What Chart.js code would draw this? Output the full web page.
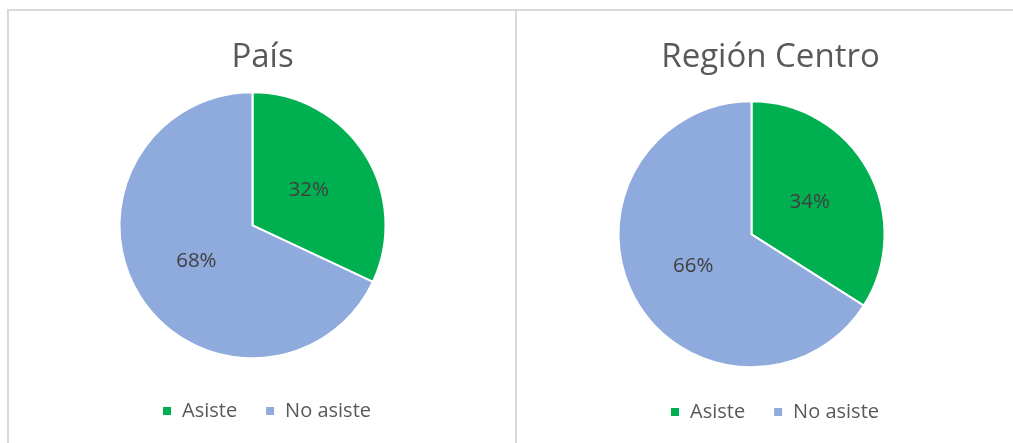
<!DOCTYPE html>
<html>
<head>
<meta charset="utf-8">
<script src="https://cdn.jsdelivr.net/npm/chart.js@4.4.0/dist/chart.umd.min.js"></script>
<style>
  html, body { margin: 0; padding: 0; background: #fff; overflow: hidden; }
  body { width: 1013px; height: 443px; position: relative; }
  .ln { position: absolute; background: #d9d9d9; }
  .panel { position: absolute; top: 11px; width: 507px; height: 432px; }
</style>
</head>
<body>
<div class="ln" style="left:7px;top:9px;width:1006px;height:2px;"></div>
<div class="ln" style="left:7px;top:9px;width:2px;height:434px;"></div>
<div class="ln" style="left:515px;top:9px;width:2px;height:434px;"></div>
<div class="panel" style="left:9px;"><canvas id="c1"></canvas></div>
<div class="panel" style="left:517px;"><canvas id="c2"></canvas></div>
<script>
const categories = ["Asiste", "No asiste"];
const paisValues = [32, 68];
const regionValues = [34, 66];
const titles = ["País", "Región Centro"];
const sliceColors = ["#00B050", "#8FAADC"];

const FONT = "'Open Sans', 'DejaVu Sans', sans-serif";

const labelPlugin = {
  id: 'sliceLabels',
  afterDatasetsDraw(chart) {
    const ctx = chart.ctx;
    const ds = chart.data.datasets[0];
    const meta = chart.getDatasetMeta(0);
    ctx.save();
    ctx.fillStyle = '#404040';
    ctx.font = '20.5px ' + FONT;
    ctx.textAlign = 'center';
    ctx.textBaseline = 'middle';
    meta.data.forEach((arc, i) => {
      const p = arc.getCenterPoint();
      ctx.fillText(ds.data[i] + '%', p.x, p.y);
    });
    ctx.restore();
  }
};

const shiftPlugin = {
  id: 'pieShift',
  afterLayout(chart, args, opts) {
    const a = chart.chartArea;
    a.left += opts.dx; a.right += opts.dx;
    a.top += opts.dy; a.bottom += opts.dy;
    if (chart.legend) {
      chart.legend.left += opts.legendDx;
      chart.legend.right += opts.legendDx;
      chart.legend.top += opts.legendDy;
      chart.legend.bottom += opts.legendDy;
    }
  }
};

function makeChart(id, title, values, dx, dy, legendDy) {
  return new Chart(document.getElementById(id), {
    type: 'pie',
    data: {
      labels: categories,
      datasets: [{
        data: values,
        backgroundColor: sliceColors,
        borderColor: '#ffffff',
        borderWidth: 2,
        radius: 133
      }]
    },
    options: {
      responsive: true,
      maintainAspectRatio: false,
      animation: false,
      layout: { padding: { bottom: 12 } },
      plugins: {
        title: {
          display: true,
          text: title,
          color: '#595959',
          font: { family: FONT, size: 33, weight: 'normal' },
          padding: { top: 27, bottom: 10 }
        },
        legend: {
          position: 'bottom',
          labels: {
            color: '#595959',
            font: { family: FONT, size: 20 },
            boxWidth: 10,
            boxHeight: 10,
            padding: 28
          }
        },
        tooltip: { enabled: false },
        pieShift: { dx: dx, dy: dy, legendDx: 4, legendDy: legendDy }
      }
    },
    plugins: [labelPlugin, shiftPlugin]
  });
}

makeChart('c1', titles[0], paisValues, -10, -5, 0);
makeChart('c2', titles[1], regionValues, -19, 4, 1);
</script>
</body>
</html>
